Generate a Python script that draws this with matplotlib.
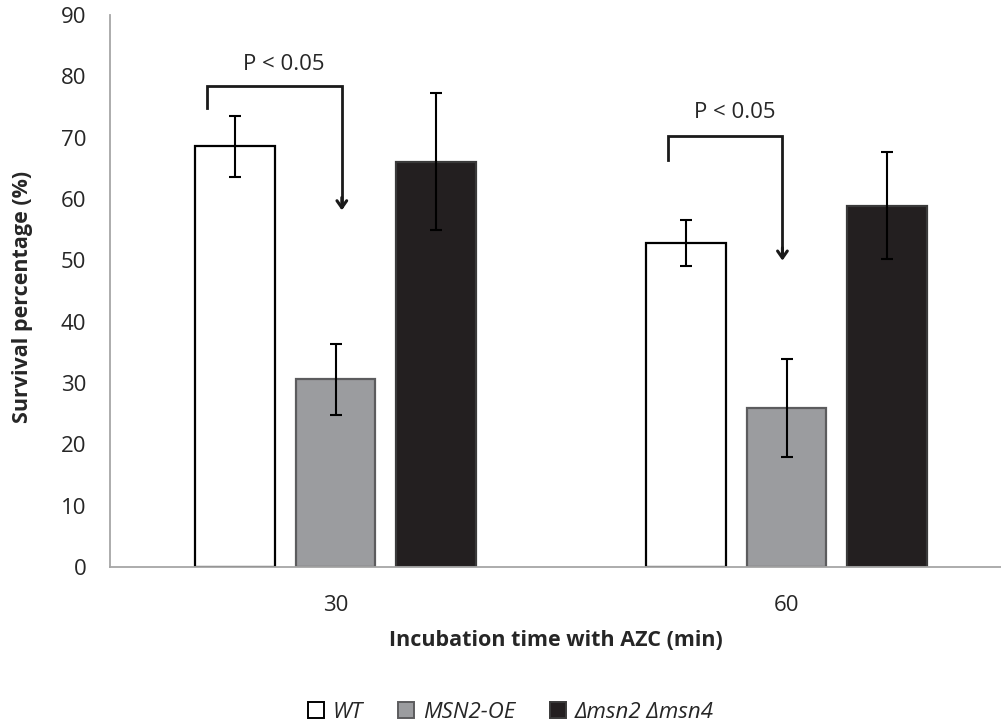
import matplotlib
matplotlib.use("Agg")
import matplotlib.pyplot as plt
from matplotlib.patches import Patch
import numpy as np

plt.rcParams['font.family'] = ['Open Sans', 'DejaVu Sans']

groups = ['30', '60']
series = ['WT', 'MSN2-OE', 'Δmsn2 Δmsn4']
values = {
    'WT': [68.6, 52.8],
    'MSN2-OE': [30.6, 25.9],
    'Δmsn2 Δmsn4': [66.1, 58.9],
}
errors = {
    'WT': [5.0, 3.7],
    'MSN2-OE': [5.8, 8.0],
    'Δmsn2 Δmsn4': [11.2, 8.7],
}
fills = ['white', '#9b9c9f', '#231f20']
edges = ['black', '#5c5c5e', '#3a3a3a']

# significance brackets: (group, top, left leg bottom, arrow tip, text y)
brackets = [(0, 78.5, 74.9, 57.7, 82.0), (1, 70.2, 66.4, 49.5, 74.1)]
bracket_dx = [(-0.063, 0.014), (-0.04, -0.009)]

fig = plt.figure(figsize=(10.01, 7.27), dpi=100)
ax = fig.add_axes([110 / 1001, 1 - 567 / 727, 902 / 1001, 552 / 727])

x = np.arange(len(groups))
pitch = 0.222
width = 0.177
for i, s in enumerate(series):
    pos = x + (i - 1) * pitch
    ax.bar(pos, values[s], width, color=fills[i], edgecolor=edges[i],
           linewidth=1.6, zorder=2)
    ax.errorbar(pos, values[s], yerr=errors[s], fmt='none', ecolor='black',
                elinewidth=1.5, capsize=4.5, capthick=1.5, zorder=3)

for (g, top, leg, tip, ty), (dl, dr) in zip(brackets, bracket_dx):
    xl = x[g] - pitch + dl
    xr = x[g] + dr
    ax.plot([xl, xl, xr, xr], [leg, top, top, tip + 1.2], color='#1a1a1a',
            lw=2.0, solid_joinstyle='miter', zorder=4)
    ax.annotate('', xy=(xr, tip), xytext=(xr, tip + 3),
                arrowprops=dict(arrowstyle='->,head_length=0.5,head_width=0.35',
                                color='#1a1a1a', lw=2.2), zorder=4)
    ax.text((xl + xr) / 2 + 0.02, ty, 'P < 0.05', ha='center', va='center',
            fontsize=16, color='#262626')

ax.set_xlim(-0.5, 1.5)
ax.set_ylim(0, 90)
ax.set_yticks(np.arange(0, 91, 10))
ax.set_xticks(x)
ax.set_xticklabels(groups)
ax.tick_params(axis='both', length=0, labelsize=16, labelcolor='#262626')
ax.tick_params(axis='x', pad=20)
ax.tick_params(axis='y', pad=17)
for sp in ['top', 'right']:
    ax.spines[sp].set_visible(False)
for sp in ['left', 'bottom']:
    ax.spines[sp].set_color('#a6a6a6')
    ax.spines[sp].set_linewidth(1.3)

fig.text(23 / 1001, 1 - 297 / 727, 'Survival percentage (%)', rotation=90,
         ha='center', va='center', fontsize=15.5, fontweight='bold', color='#262626')
fig.text(556 / 1001, 1 - 641 / 727, 'Incubation time with AZC (min)',
         ha='center', va='center', fontsize=15.5, fontweight='bold', color='#262626')

handles = [Patch(facecolor=f, edgecolor=e, linewidth=1.4) for f, e in zip(fills, edges)]
leg = fig.legend(handles, series, loc='center', bbox_to_anchor=(511 / 1001, 1 - 712 / 727),
                 ncol=3, frameon=False, fontsize=16, handlelength=0.7,
                 handleheight=0.7, handletextpad=0.4, columnspacing=1.6)
for t in leg.get_texts():
    t.set_fontstyle('italic')
    t.set_color('#262626')

fig.savefig('out.png', dpi=100)
